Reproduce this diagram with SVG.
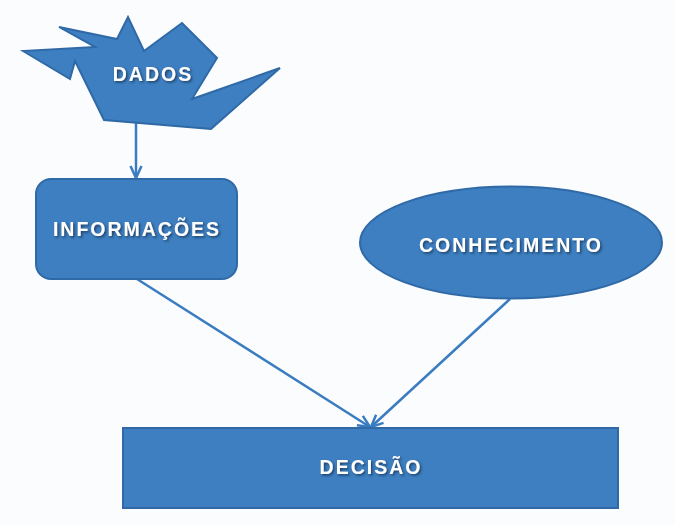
<svg xmlns="http://www.w3.org/2000/svg" width="675" height="525" viewBox="0 0 675 525">
<defs>
<style>
.shape{fill:#3d7fc0;stroke:#2f69a6;stroke-width:2}
.lbl{font-family:"Liberation Sans",Arial,sans-serif;font-weight:bold;font-size:19.5px;fill:#ffffff;text-anchor:middle;letter-spacing:2px;filter:url(#sh)}
.conn{stroke:#3a7cc0;stroke-width:2.5;fill:none}
</style>
<filter id="sh" x="-10%" y="-30%" width="120%" height="160%">
<feDropShadow dx="1.5" dy="1.5" stdDeviation="0.8" flood-color="#1a3050" flood-opacity="0.8"/>
</filter>
<marker id="arr" viewBox="0 0 14 14" refX="13" refY="7" markerWidth="14" markerHeight="14" markerUnits="userSpaceOnUse" orient="auto">
<path d="M1,1.5 L13,7 L1,12.5" fill="none" stroke="#3a7cc0" stroke-width="2.5"/>
</marker>
</defs>
<rect width="675" height="525" fill="#fbfcfe"/>
<g id="connectors">
<line class="conn" x1="136" y1="90" x2="136" y2="178" marker-end="url(#arr)"/>
<line class="conn" x1="137" y1="279" x2="370" y2="427" marker-end="url(#arr)"/>
<line class="conn" x1="510" y1="299" x2="371" y2="427" marker-end="url(#arr)"/>
</g>
<g id="dados">
<polygon class="shape" points="23,51 70,79 75,61 104,120 211,129 280,68 192,99 217,58 182,23 144,51 128,17 117,39 59,27 95,47"/>
<text class="lbl" x="153" y="81">DADOS</text>
</g>
<g id="informacoes">
<rect class="shape" x="36" y="179" width="201" height="100" rx="15"/>
<text class="lbl" x="137" y="236">INFORMAÇÕES</text>
</g>
<g id="conhecimento">
<ellipse class="shape" cx="511" cy="242.5" rx="151" ry="56"/>
<text class="lbl" x="511" y="252">CONHECIMENTO</text>
</g>
<g id="decisao">
<rect class="shape" x="123" y="428" width="495" height="80"/>
<text class="lbl" x="371" y="474">DECISÃO</text>
</g>
</svg>
